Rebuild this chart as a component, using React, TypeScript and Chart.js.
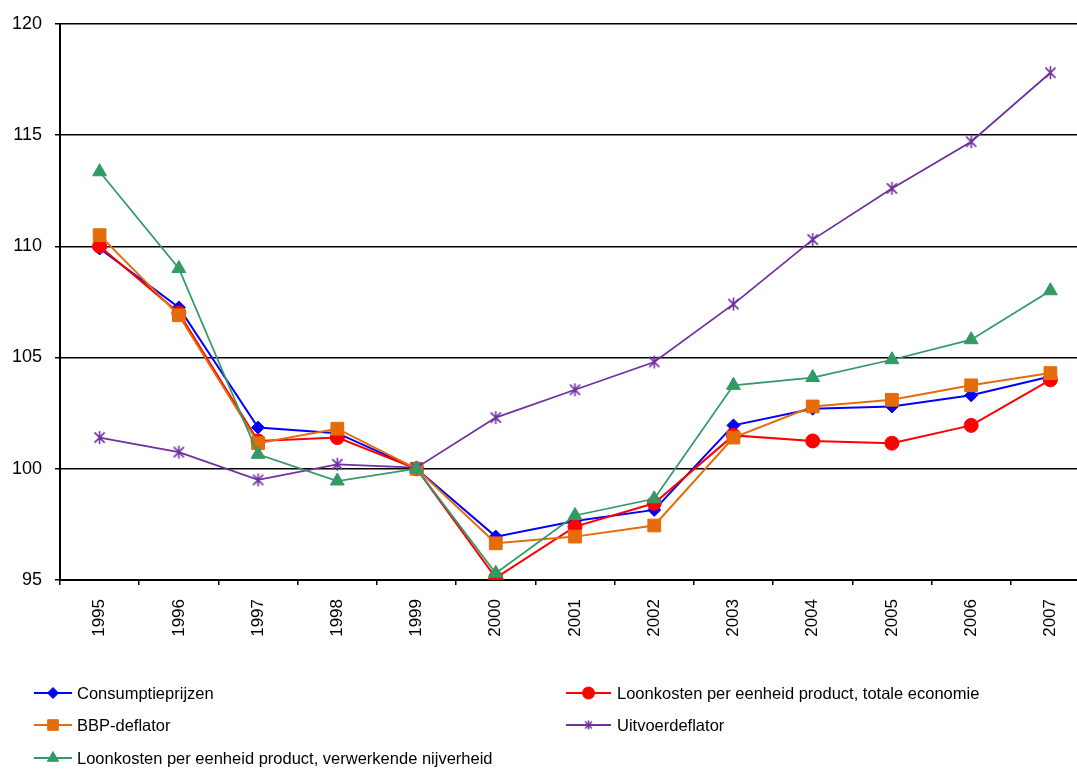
import React, { useEffect, useRef } from 'react';
import { Chart, registerables } from 'chart.js';
import { drawPoint } from 'chart.js/helpers';

Chart.register(...registerables);

// Index values (1999 = 100)
const years = ['1995', '1996', '1997', '1998', '1999', '2000', '2001', '2002', '2003', '2004', '2005', '2006', '2007'];
const consumptieprijzen = [109.9, 107.25, 101.85, 101.6, 100.0, 96.95, 97.65, 98.15, 101.95, 102.7, 102.8, 103.3, 104.15];
const loonkostenTotaal = [110.0, 107.0, 101.25, 101.4, 100.0, 95.1, 97.4, 98.45, 101.5, 101.25, 101.15, 101.95, 104.0];
const bbpDeflator = [110.5, 106.9, 101.15, 101.8, 100.0, 96.65, 96.95, 97.45, 101.4, 102.8, 103.1, 103.75, 104.3];
const uitvoerdeflator = [101.4, 100.75, 99.5, 100.2, 100.05, 102.3, 103.55, 104.8, 107.4, 110.3, 112.6, 114.7, 117.8];
const loonkostenVerwerkend = [113.35, 109.0, 100.65, 99.45, 100.0, 95.3, 97.9, 98.65, 103.75, 104.1, 104.9, 105.8, 108.0];

const seriesLabels = [
  'Consumptieprijzen',
  'Loonkosten per eenheid product, totale economie',
  'BBP-deflator',
  'Uitvoerdeflator',
  'Loonkosten per eenheid product, verwerkende nijverheid',
];
const seriesColors = ['#0000FF', '#FF0000', '#E46C0A', '#7030A0', '#339966'];

const FONT = '"Liberation Sans", Arial, sans-serif';

// Excel-style asterisk marker: vertical bar plus an X
function asteriskMarker(size: number, color: string, lw: number): HTMLCanvasElement {
  const c = document.createElement('canvas');
  c.width = size;
  c.height = size;
  const g = c.getContext('2d')!;
  g.strokeStyle = color;
  g.lineWidth = lw;
  const m = size / 2;
  const r = size / 2 - 1;
  const d = r * 0.78;
  g.beginPath();
  g.moveTo(m, m - r);
  g.lineTo(m, m + r);
  g.moveTo(m - d, m - d);
  g.lineTo(m + d, m + d);
  g.moveTo(m + d, m - d);
  g.lineTo(m - d, m + d);
  g.stroke();
  return c;
}

// Two-column legend drawn under the plot
const legendPlugin = {
  id: 'seriesLegend',
  afterDraw(chart: any) {
    const ctx = chart.ctx as CanvasRenderingContext2D;
    const cols = [
      { x0: 34, x1: 72, text: 77 },
      { x0: 566, x1: 611, text: 617 },
    ];
    const rows = [693, 725, 758];
    const styles: any[] = ['rectRot', 'circle', 'rect', asteriskMarker(11, seriesColors[3], 1.5), 'triangle'];
    const radii = [5.5, 6, 7.5, 5, 6.5];
    chart.data.datasets.forEach((ds: any, i: number) => {
      const col = cols[i % 2];
      const y = rows[Math.floor(i / 2)];
      ctx.save();
      ctx.strokeStyle = ds.borderColor;
      ctx.fillStyle = ds.borderColor;
      ctx.lineWidth = 2;
      ctx.beginPath();
      ctx.moveTo(col.x0, y);
      ctx.lineTo(col.x1, y);
      ctx.stroke();
      ctx.lineWidth = 1;
      drawPoint(ctx, { pointStyle: styles[i], radius: radii[i], rotation: 0, borderWidth: 1 } as any, (col.x0 + col.x1) / 2, y);
      ctx.fillStyle = '#000';
      ctx.font = `16.5px ${FONT}`;
      ctx.textBaseline = 'middle';
      ctx.textAlign = 'left';
      ctx.fillText(ds.label, col.text, y + 1);
      ctx.restore();
    });
  },
};

export default function App() {
  const ref = useRef<HTMLCanvasElement | null>(null);

  useEffect(() => {
    if (!ref.current) return;
    const values = [consumptieprijzen, loonkostenTotaal, bbpDeflator, uitvoerdeflator, loonkostenVerwerkend];
    const pointStyles: any[] = ['rectRot', 'circle', 'rect', asteriskMarker(15, seriesColors[3], 1.6), 'triangle'];
    const pointRadii = [6.5, 7, 9, 7, 8];
    const lineWidths = [2, 2, 2, 1.75, 1.75];

    const chart = new Chart(ref.current, {
      type: 'line',
      data: {
        labels: years,
        datasets: values.map((data, i) => ({
          label: seriesLabels[i],
          data,
          borderColor: seriesColors[i],
          backgroundColor: seriesColors[i],
          borderWidth: lineWidths[i],
          pointStyle: pointStyles[i],
          pointRadius: pointRadii[i],
          pointBorderWidth: 1,
          pointBackgroundColor: seriesColors[i],
          pointBorderColor: seriesColors[i],
          tension: 0,
          order: 5 - i,
        })),
      },
      options: {
        responsive: false,
        animation: false,
        layout: { padding: { top: 23, right: 4, bottom: 129, left: 0 } },
        plugins: {
          legend: { display: false },
          tooltip: { enabled: false },
        },
        scales: {
          x: {
            offset: true,
            grid: {
              display: true,
              drawOnChartArea: false,
              drawTicks: true,
              tickLength: 5,
              offset: true,
              color: '#000',
              lineWidth: 1.5,
            },
            border: { color: '#000', width: 2 },
            ticks: {
              minRotation: 90,
              maxRotation: 90,
              autoSkip: false,
              padding: 14,
              color: '#000',
              font: { family: FONT, size: 17 },
            },
            afterFit: (s: any) => {
              s.height = 60;
            },
          },
          y: {
            min: 95,
            max: 120,
            ticks: {
              stepSize: 5,
              padding: 13,
              color: '#000',
              font: { family: FONT, size: 18 },
            },
            grid: { color: '#000', lineWidth: 1.5, tickLength: 5 },
            border: { color: '#000', width: 2 },
            afterFit: (s: any) => {
              s.width = 60;
            },
          },
        },
      },
      plugins: [legendPlugin],
    });
    return () => chart.destroy();
  }, []);

  return (
    <div style={{ position: 'fixed', left: 0, top: 0, width: 1100, height: 769, background: '#fff' }}>
      <canvas ref={ref} width={1100} height={769} style={{ display: 'block' }} />
    </div>
  );
}
